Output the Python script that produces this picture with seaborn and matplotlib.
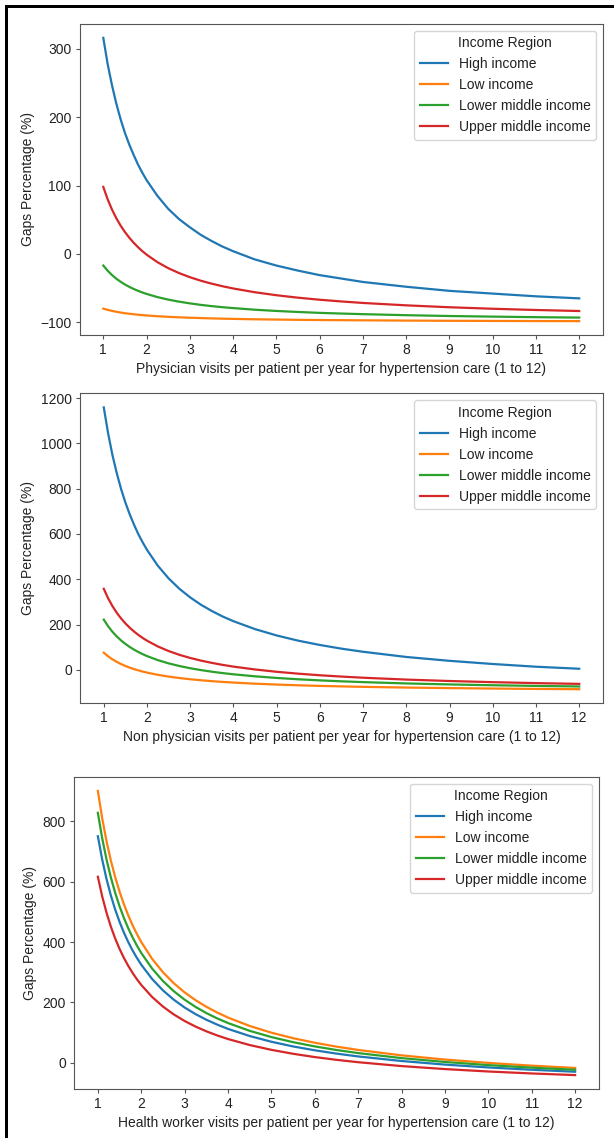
import matplotlib
matplotlib.use("Agg")
import matplotlib.pyplot as plt
from matplotlib.patches import Rectangle
import pandas as pd
import seaborn as sns

plt.rcParams['font.family'] = ['Liberation Sans', 'DejaVu Sans']
plt.rcParams['font.size'] = 10

visits = [1, 1.1, 1.2, 1.3, 1.4, 1.5, 1.6, 1.7, 1.8, 1.9, 2, 2.25, 2.5, 2.75, 3,
          3.25, 3.5, 3.75, 4, 4.5, 5, 5.5, 6, 6.5, 7, 8, 9, 10, 11, 12]
regions = ["High income", "Low income", "Lower middle income", "Upper middle income"]

# Panel 1: physician visits
phys_high = [316, 278, 247, 220, 197, 177, 160, 145, 131, 119, 108, 85, 66, 51, 39,
             28, 19, 10.9, 4, -8, -17, -24.4, -31, -36, -41, -48, -54, -58, -62, -65]
phys_low = [-80, -81.8, -83.3, -84.6, -85.7, -86.7, -87.5, -88.2, -88.9, -89.5, -90, -91.1, -92, -92.7, -93.3,
            -93.8, -94.3, -94.7, -95, -95.6, -96, -96.4, -96.7, -96.9, -97.1, -97.5, -97.8, -98, -98.2, -98.3]
phys_lower_mid = [-17, -24.5, -30.8, -36.2, -40.7, -44.7, -48.1, -51.2, -53.9, -56.3, -58.5, -63.1, -66.8, -69.8, -72.3,
                  -74.5, -76.3, -77.9, -79.2, -81.6, -83.4, -84.9, -86.2, -87.2, -88.1, -89.6, -90.8, -91.7, -92.5, -93.1]
phys_upper_mid = [98, 80, 65, 52.3, 41.4, 32, 23.8, 16.5, 10, 4.2, -1, -12, -20.8, -28, -34,
                  -39.1, -43.4, -47.2, -50.5, -56, -60.4, -64, -67, -69.5, -71.7, -75.2, -78, -80.2, -82, -83.5]

# Panel 2: non physician visits
nonphys_high = [1159, 1045, 949, 869, 799, 739, 687, 641, 599, 563, 530, 460, 404, 358, 320,
                287.4, 260, 235.7, 215, 180, 152, 128.9, 110, 93.7, 80, 57, 40, 26, 14, 5]
nonphys_low = [76, 60, 46.7, 35.4, 25.7, 17.3, 10, 3.5, -2.2, -7.4, -12, -21.8, -29.6, -36, -41.3,
               -45.8, -49.7, -53.1, -56, -60.9, -64.8, -68, -70.7, -72.9, -74.9, -78, -80.4, -82.4, -84, -85.3]
nonphys_lower_mid = [222, 192.7, 168.3, 147.7, 130, 114.7, 101.3, 89.4, 78.9, 69.5, 61, 43.1, 28.8, 17.1, 7.3,
                     -0.9, -8, -14.1, -19.5, -28.4, -35.6, -41.5, -46.3, -50.5, -54, -59.8, -64.2, -67.8, -70.7, -73.2]
nonphys_upper_mid = [358, 316.4, 281.7, 252.3, 227.1, 205.3, 186.3, 169.4, 154.4, 141, 129, 103.6, 83.2, 66.5, 52.7,
                     40.9, 30.9, 22.1, 14.5, 1.8, -8.4, -16.7, -23.7, -29.5, -34.6, -42.8, -49.1, -54.2, -58.4, -61.8]

# Panel 3: health worker visits
hw_high = [750, 672.7, 608.3, 553.8, 507.1, 466.7, 431.3, 400, 372.2, 347.4, 325, 277.8, 240, 209.1, 183.3,
           161.5, 142.9, 126.7, 112.5, 88.9, 70, 54.5, 41.7, 30.8, 21.4, 6.3, -5.6, -15, -22.7, -29.2]
hw_low = [900, 809.1, 733.3, 669.2, 614.3, 566.7, 525, 488.2, 455.6, 426.3, 400, 344.4, 300, 263.6, 233.3,
          207.7, 185.7, 166.7, 150, 122.2, 100, 81.8, 66.7, 53.8, 42.9, 25, 11.1, 0, -9.1, -16.7]
hw_lower_mid = [827.5, 743.2, 672.9, 613.5, 562.5, 518.3, 479.7, 445.6, 415.3, 388.2, 363.8, 312.2, 271, 237.3, 209.2,
                185.4, 165, 147.3, 131.9, 106.1, 85.5, 68.6, 54.6, 42.7, 32.5, 15.9, 3.1, -7.3, -15.7, -22.7]
hw_upper_mid = [616, 550.9, 496.7, 450.8, 411.4, 377.3, 347.5, 321.2, 297.8, 276.8, 258, 218.2, 186.4, 160.4, 138.7,
                120.3, 104.6, 90.9, 79, 59.1, 43.2, 30.2, 19.3, 10.2, 2.3, -10.5, -20.4, -28.4, -34.9, -40.3]

xlabels = [
    "Physician visits per patient per year for hypertension care (1 to 12)",
    "Non physician visits per patient per year for hypertension care (1 to 12)",
    "Health worker visits per patient per year for hypertension care (1 to 12)",
]
ylabel = "Gaps Percentage (%)"
legend_title = "Income Region"
panels = [
    [phys_high, phys_low, phys_lower_mid, phys_upper_mid],
    [nonphys_high, nonphys_low, nonphys_lower_mid, nonphys_upper_mid],
    [hw_high, hw_low, hw_lower_mid, hw_upper_mid],
]
xticks = list(range(1, 13))

W, H = 614, 1138
fig = plt.figure(figsize=(W / 100, H / 100), dpi=100)

# axes boxes in pixels: left, top, right, bottom
boxes = [(79.5, 23.7, 603, 335.3), (80, 393.3, 603, 703.3), (74, 776.7, 599, 1089.3)]

for (l, t, r, b), series, xl in zip(boxes, panels, xlabels):
    ax = fig.add_axes([l / W, 1 - b / H, (r - l) / W, (b - t) / H])
    rows = []
    for reg, vals in zip(regions, series):
        for xv, yv in zip(visits, vals):
            rows.append({"visits": xv, "gap": yv, legend_title: reg})
    df = pd.DataFrame(rows)
    sns.lineplot(data=df, x="visits", y="gap", hue=legend_title,
                 hue_order=regions, palette="tab10", linewidth=1.6, ax=ax)
    ax.set_xticks(xticks)
    ax.set_xlabel(xl, color="#222222", labelpad=3.5)
    ax.set_ylabel(ylabel, color="#222222", labelpad=4)
    for sp in ax.spines.values():
        sp.set_color("#555555")
    ax.tick_params(labelcolor="#222222", color="#555555", length=2.6, pad=3.2)
    leg = ax.legend(title=legend_title, loc="upper right")
    leg.get_title().set_color("#222222")
    for txt in leg.get_texts():
        txt.set_color("#222222")

# screenshot border lines (left and top)
fig.add_artist(Rectangle((5 / W, 0), 2.5 / W, 1 - 5.5 / H, transform=fig.transFigure,
                         color="black", lw=0))
fig.add_artist(Rectangle((5 / W, 1 - 8 / H), 1, 2.5 / H, transform=fig.transFigure,
                         color="black", lw=0))

fig.savefig("out.png", dpi=100)
